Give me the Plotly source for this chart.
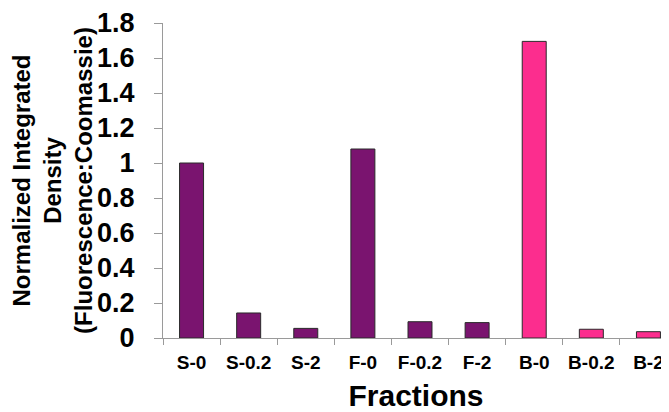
import plotly.graph_objects as go

categories = ["S-0", "S-0.2", "S-2", "F-0", "F-0.2", "F-2", "B-0", "B-0.2", "B-2"]
values = [1.00, 0.143, 0.055, 1.08, 0.093, 0.088, 1.695, 0.05, 0.036]
purple = "#7A146F"
pink = "#FC2D8E"
bar_colors = [purple] * 6 + [pink] * 3
y_ticks = [0, 0.2, 0.4, 0.6, 0.8, 1.0, 1.2, 1.4, 1.6, 1.8]
y_tick_labels = ["0", "0.2", "0.4", "0.6", "0.8", "1", "1.2", "1.4", "1.6", "1.8"]

font_family = "Liberation Sans, Arial, sans-serif"

fig = go.Figure(
    go.Bar(
        x=categories,
        y=values,
        width=0.42,
        marker=dict(color=bar_colors, line=dict(color="#2a2a2a", width=1)),
    )
)

# page body has an 8px default margin, so the figure is offset by 8px
fig.update_layout(
    width=661,
    height=404,
    margin=dict(l=155, r=0, t=15, b=74),
    paper_bgcolor="white",
    plot_bgcolor="white",
    showlegend=False,
    font=dict(family=font_family, color="black"),
    xaxis=dict(
        range=[-0.5, 8.36],
        showline=True,
        linecolor="#9a9a9a",
        linewidth=1,
        ticks="outside",
        tickson="boundaries",
        ticklen=6,
        tickcolor="#9a9a9a",
        tickfont=dict(size=19, family=font_family, weight="bold"),
        showgrid=False,
        zeroline=False,
        ticklabelstandoff=7,
        title=dict(text="<b>Fractions</b>", font=dict(size=30, family=font_family), standoff=20),
        automargin=False,
    ),
    yaxis=dict(
        range=[0, 1.8],
        tickvals=y_ticks,
        ticktext=y_tick_labels,
        showline=True,
        linecolor="#9a9a9a",
        linewidth=1,
        ticks="outside",
        ticklen=8,
        tickcolor="#9a9a9a",
        tickfont=dict(size=27, family=font_family, weight="bold"),
        showgrid=False,
        zeroline=False,
        ticklabelstandoff=14,
        title=dict(
            text="<b>Normalized Integrated<br>Density<br>(Fluorescence:Coomassie)</b>",
            font=dict(size=24, family=font_family),
            standoff=8,
        ),
        automargin=False,
    ),
)

fig.write_html("out.html")
